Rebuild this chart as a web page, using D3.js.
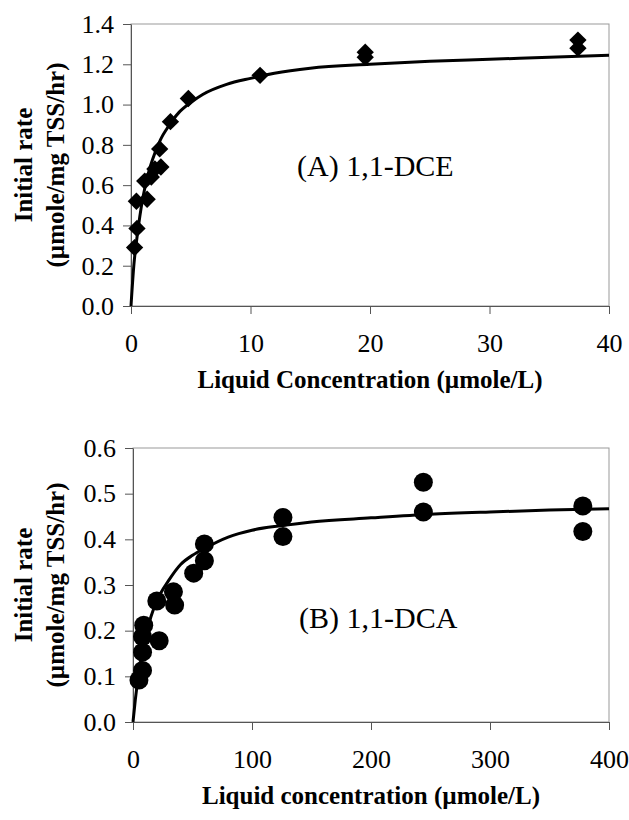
<!DOCTYPE html>
<html>
<head>
<meta charset="utf-8">
<script src="https://cdn.jsdelivr.net/npm/d3@7"></script>
<style>
    body { margin: 0; background: #fff; }
    svg { display: block; }
    text { font-family: 'Liberation Serif', 'Times New Roman', serif; fill: #000; }
</style>
</head>
<body>
<svg id="chart" width="629" height="820"></svg>
<script>
// Panel A: 1,1-DCE measured rates
const dceConc = [0.3, 0.5, 0.45, 1.35, 1.15, 1.7, 2.0, 2.5, 2.4, 3.3, 4.8, 10.8, 19.6, 19.6, 37.4, 37.4];
const dceRate = [0.29, 0.385, 0.52, 0.53, 0.62, 0.64, 0.68, 0.69, 0.78, 0.915, 1.03, 1.145, 1.26, 1.235, 1.32, 1.28];
// Panel A: fitted curve
const dceFitConc = [0, 0.25, 0.5, 1, 1.5, 2, 2.5, 3, 4, 5, 6, 8, 10, 12, 15, 20, 25, 30, 35, 40];
const dceFitRate = [0, 0.21, 0.34, 0.54, 0.67, 0.76, 0.83, 0.88, 0.96, 1.01, 1.05, 1.1, 1.13, 1.155, 1.18, 1.2, 1.215, 1.225, 1.235, 1.245];
const dceXTicks = [0, 10, 20, 30, 40];
const dceYTicks = [0, 0.2, 0.4, 0.6, 0.8, 1.0, 1.2, 1.4];

// Panel B: 1,1-DCA measured rates
const dcaConc = [5, 8, 8, 8, 9, 22, 20, 34, 35, 51, 60, 60, 126, 126, 244, 244, 378, 378];
const dcaRate = [0.092, 0.113, 0.153, 0.187, 0.212, 0.178, 0.265, 0.285, 0.256, 0.326, 0.353, 0.39, 0.448, 0.406, 0.525, 0.46, 0.473, 0.417];
// Panel B: fitted curve
const dcaFitConc = [0, 2, 5, 10, 15, 20, 30, 40, 50, 60, 80, 100, 125, 150, 200, 250, 300, 350, 400];
const dcaFitRate = [0, 0.05, 0.11, 0.18, 0.23, 0.265, 0.31, 0.345, 0.365, 0.38, 0.405, 0.42, 0.43, 0.438, 0.447, 0.455, 0.46, 0.464, 0.467];
const dcaXTicks = [0, 100, 200, 300, 400];
const dcaYTicks = [0, 0.1, 0.2, 0.3, 0.4, 0.5, 0.6];

const svg = d3.select('#chart');

const panels = [
    {
        box: { left: 131, right: 609, top: 24, bottom: 306 },
        xDomain: [0, 40], yDomain: [0, 1.4],
        xTicks: dceXTicks, yTicks: dceYTicks,
        conc: dceConc, rate: dceRate,
        fitConc: dceFitConc, fitRate: dceFitRate,
        marker: 'diamond',
        label: '(A) 1,1-DCE', labelPos: [297, 176],
        xTitle: 'Liquid Concentration (\u00b5mole/L)',
    },
    {
        box: { left: 133, right: 609, top: 448, bottom: 722 },
        xDomain: [0, 400], yDomain: [0, 0.6],
        xTicks: dcaXTicks, yTicks: dcaYTicks,
        conc: dcaConc, rate: dcaRate,
        fitConc: dcaFitConc, fitRate: dcaFitRate,
        marker: 'circle',
        label: '(B) 1,1-DCA', labelPos: [299, 628],
        xTitle: 'Liquid concentration (\u00b5mole/L)',
    },
];

const drawPanel = (p) => {
    const { left, right, top, bottom } = p.box;
    const x = d3.scaleLinear().domain(p.xDomain).range([left, right]);
    const y = d3.scaleLinear().domain(p.yDomain).range([bottom, top]);
    const g = svg.append('g');

    // frame (top and right edges are faint in the scan)
    g.append('rect')
        .attr('x', left).attr('y', top)
        .attr('width', right - left).attr('height', bottom - top)
        .attr('fill', 'none')
        .attr('stroke', '#999')
        .attr('stroke-width', 1);

    const yAxis = g.append('g')
        .attr('transform', `translate(${left},0)`)
        .call(d3.axisLeft(y).tickValues(p.yTicks).tickSize(8).tickSizeOuter(0)
            .tickPadding(9).tickFormat(d3.format('.1f')));
    const xAxis = g.append('g')
        .attr('transform', `translate(0,${bottom})`)
        .call(d3.axisBottom(x).tickValues(p.xTicks).tickSize(8).tickSizeOuter(0)
            .tickPadding(20).tickFormat(d3.format('d')));

    [yAxis, xAxis].forEach((a) => {
        a.select('.domain').attr('stroke', '#555');
        a.selectAll('.tick line').attr('stroke', '#555');
        a.selectAll('.tick text')
            .attr('font-family', 'Liberation Serif, Times New Roman, serif')
            .attr('font-size', 26)
            .attr('fill', '#000');
    });

    // fitted curve
    const line = d3.line()
        .x((d) => x(d[0]))
        .y((d) => y(d[1]))
        .curve(d3.curveMonotoneX);
    g.append('path')
        .datum(p.fitConc.map((c, i) => [c, p.fitRate[i]]))
        .attr('d', line)
        .attr('fill', 'none')
        .attr('stroke', '#000')
        .attr('stroke-width', 3)
        .attr('stroke-linejoin', 'round');

    // measured points
    const pts = p.conc.map((c, i) => [c, p.rate[i]]);
    if (p.marker === 'circle') {
        g.selectAll('circle.pt')
            .data(pts)
            .join('circle')
                .attr('class', 'pt')
                .attr('cx', (d) => x(d[0]))
                .attr('cy', (d) => y(d[1]))
                .attr('r', 9.5)
                .attr('fill', '#000');
    } else {
        const diamond = d3.symbol(d3.symbolSquare, 150);
        g.selectAll('path.pt')
            .data(pts)
            .join('path')
                .attr('class', 'pt')
                .attr('d', diamond)
                .attr('transform', (d) => `translate(${x(d[0])},${y(d[1])}) rotate(45)`)
                .attr('fill', '#000');
    }

    // panel label
    g.append('text')
        .attr('x', p.labelPos[0])
        .attr('y', p.labelPos[1])
        .attr('font-size', 30)
        .text(p.label);

    // axis titles
    g.append('text')
        .attr('x', (left + right) / 2)
        .attr('y', bottom + 82)
        .attr('text-anchor', 'middle')
        .attr('font-size', 25)
        .attr('font-weight', 'bold')
        .text(p.xTitle);

    const cy = (top + bottom) / 2;
    g.append('text')
        .attr('transform', `translate(32,${cy}) rotate(-90)`)
        .attr('text-anchor', 'middle')
        .attr('font-size', 25)
        .attr('font-weight', 'bold')
        .text('Initial rate');
    g.append('text')
        .attr('transform', `translate(64,${cy}) rotate(-90)`)
        .attr('text-anchor', 'middle')
        .attr('font-size', 25)
        .attr('font-weight', 'bold')
        .text('(\u00b5mole/mg TSS/hr)');
};

panels.forEach(drawPanel);
</script>
</body>
</html>
